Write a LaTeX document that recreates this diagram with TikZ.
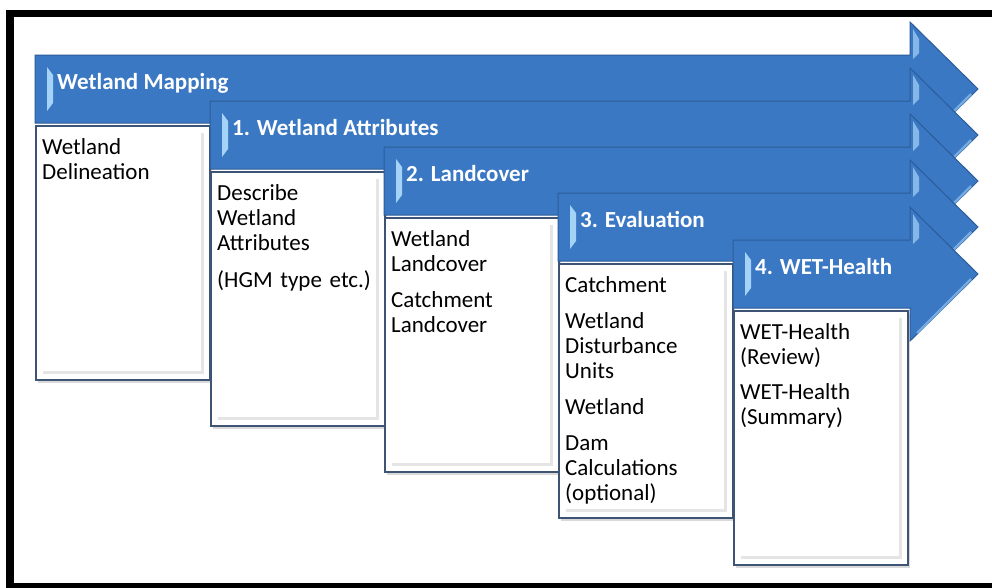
\documentclass[tikz,border=0pt]{standalone}
\usepackage{fontspec}
\setmainfont{Carlito}
\usetikzlibrary{shadows}
\definecolor{bannerblue}{HTML}{3B78C3}
\definecolor{bannerline}{HTML}{2B5C98}
\definecolor{bevel}{HTML}{A5D3F7}
\definecolor{cardline}{HTML}{3D5474}
\begin{document}
\begin{tikzpicture}[x=1pt,y=-1pt,
    bannertext/.style={text=white,font=\fontsize{23}{25}\selectfont\bfseries,anchor=base west,inner sep=0pt},
    card/.style={draw=cardline,line width=1.8pt,fill=white,minimum width=174pt,minimum height=254pt,
      anchor=north west,inner sep=0pt,drop shadow={shadow xshift=2pt,shadow yshift=-3pt,opacity=0.3}},
    cardtext/.style={anchor=north west,text width=166pt,align=left,inner sep=0pt,font=\fontsize{23}{25}\selectfont}]
  \useasboundingbox (0,0) rectangle (992,587);
  \clip (0,0) rectangle (992,587);
  % outer frame
  \draw[line width=7.5pt] (10,13.5) rectangle (1000,587);
  % banners and cards, back to front
  \foreach \l/\t/\n in {35/55/a,210/101/b,384/147/c,558/193/d,733/240/e}{
    \draw[bannerline,fill=bannerblue,line width=1pt]
      (\l,\t) -- (910,\t) -- (910,\t-33) -- (978,\t+34) -- (910,\t+101) -- (910,\t+68) -- (\l,\t+68) -- cycle;
    \fill[bevel] (\l+12,\t+12) -- (\l+18,\t+20) -- (\l+18,\t+48) -- (\l+12,\t+56) -- cycle;
    \fill[bevel!70!bannerblue] (913,\t-26) -- (919,\t-16) -- (919,\t-2) -- (913,\t+4) -- cycle;
    \draw[bevel!55!bannerblue,line width=2.5pt] (971,\t+39) -- (917,\t+93);
    \node[card] (box\n) at (\l,\t+70) {};
    \draw[black!10,line width=3pt] ([shift={(-8,8)}]box\n.north east) -- ([shift={(-8,-8)}]box\n.south east)
      -- ([shift={(8,-8)}]box\n.south west);
  }
  % banner labels
  \node[bannertext] (mapping) at (57,89) {Wetland Mapping};
  \node[bannertext] (attributes) at (232,135) {1. Wetland Attributes};
  \node[bannertext] (landcover) at (406,181) {2. Landcover};
  \node[bannertext] (evaluation) at (580,227) {3. Evaluation};
  \node[bannertext] (wethealth) at (755,274) {4. WET-Health};
  % card contents
  \node[cardtext] (delin) at ([shift={(7,13)}]boxa.north west) {Wetland\\Delineation};
  \node[cardtext] (describe) at ([shift={(7,13)}]boxb.north west)
    {Describe\\Wetland\\Attributes\\[12pt](HGM type etc.)};
  \node[cardtext] (cover) at ([shift={(7,13)}]boxc.north west)
    {Wetland\\Landcover\\[11pt]Catchment\\Landcover};
  \node[cardtext] (units) at ([shift={(7,13)}]boxd.north west)
    {Catchment\\[11pt]Wetland\\Disturbance\\Units\\[11pt]Wetland\\[11pt]Dam\\Calculations\\(optional)};
  \node[cardtext] (review) at ([shift={(7,13)}]boxe.north west)
    {WET-Health\\(Review)\\[10pt]WET-Health\\(Summary)};
\end{tikzpicture}
\end{document}
